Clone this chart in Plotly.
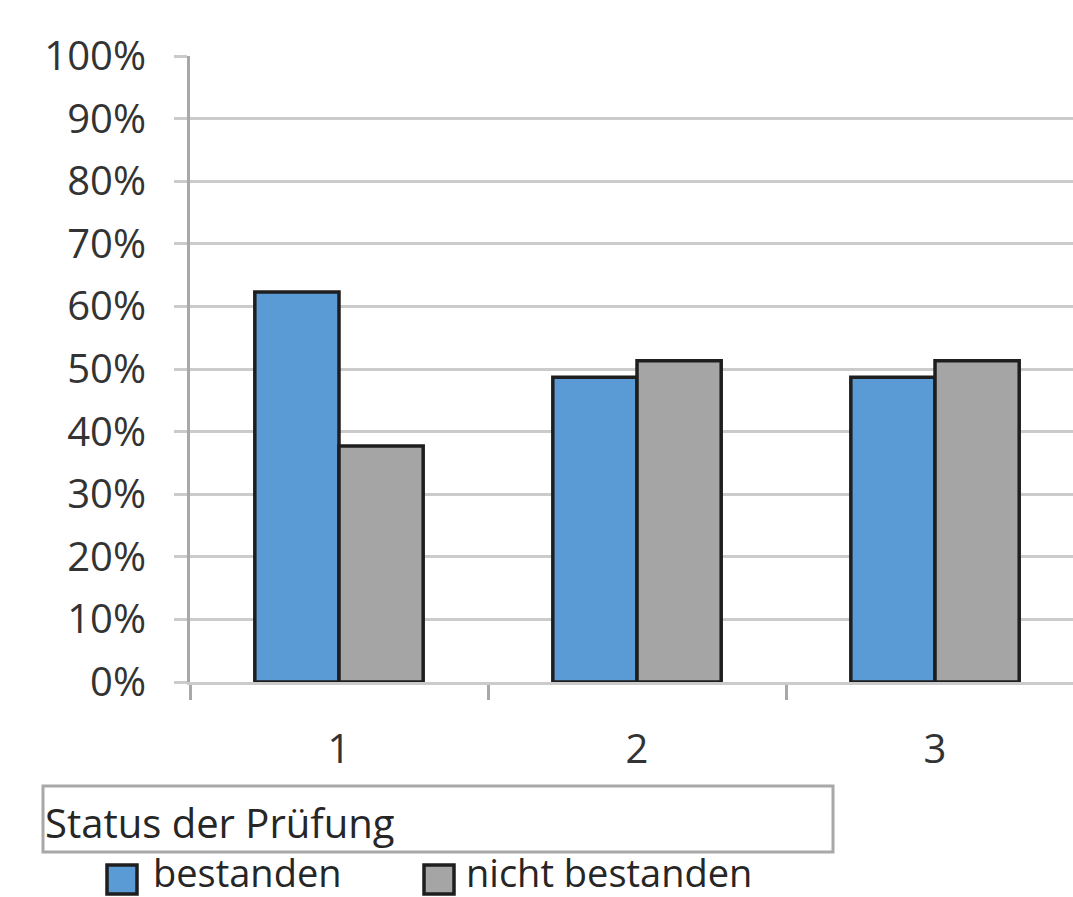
import plotly.graph_objects as go

categories = ["1", "2", "3"]
series_names = ["bestanden", "nicht bestanden"]
bestanden = [0.623, 0.487, 0.487]
nicht_bestanden = [0.377, 0.513, 0.513]
colors = ["#5B9BD5", "#A5A5A5"]
legend_title = "Status der Prüfung"

W, H = 1073, 897
L, R, T, B = 190, 0, 56, 215
PW, PH = W - L - R, H - T - B

def px(x):
    return (x - L) / PW

def py(y):
    return (H - B - y) / PH

FONT = "Open Sans"
fig = go.Figure()
for name, vals, col in zip(series_names, [bestanden, nicht_bestanden], colors):
    fig.add_trace(go.Bar(
        x=categories, y=vals, name=name,
        marker=dict(color=col, line=dict(color="#1e1e1e", width=3.5)),
        showlegend=False,
    ))

fig.update_layout(
    width=W, height=H,
    margin=dict(l=L, r=R, t=T, b=B, pad=0),
    paper_bgcolor="white", plot_bgcolor="white",
    barmode="group", bargap=0.435, bargroupgap=0,
    font=dict(family=FONT, size=40, color="#333333"),
)
fig.update_yaxes(
    range=[0, 1], dtick=0.1, tickformat=".0%",
    showgrid=True, gridcolor="#cbcbcb", gridwidth=3,
    showline=True, linecolor="#a8a8a8", linewidth=3,
    ticks="outside", ticklen=13, tickcolor="#cbcbcb", tickwidth=3,
    ticklabelstandoff=20, zeroline=False,
    tickfont=dict(family=FONT, size=40, color="#333333"),
)
fig.update_xaxes(
    type="category", range=[-0.5, 2.463],
    showline=True, linecolor="#cbcbcb", linewidth=3,
    ticks="outside", tickson="boundaries", ticklen=15, tickcolor="#a8a8a8", tickwidth=3,
    ticklabelstandoff=30, showgrid=False,
    tickfont=dict(family=FONT, size=40, color="#333333"),
)

# legend box with title
fig.add_shape(type="rect", xref="paper", yref="paper",
              x0=px(43), x1=px(833), y0=py(852), y1=py(786),
              line=dict(color="#a8a8a8", width=3), fillcolor="white")
fig.add_annotation(xref="paper", yref="paper", x=px(43), y=py(822),
                   xanchor="left", yanchor="middle", showarrow=False,
                   text=legend_title, font=dict(family=FONT, size=40, color="#262626"))

# legend entries
legend_items = [(series_names[0], colors[0], 107, 151), (series_names[1], colors[1], 424, 464)]
for name, col, sx, tx in legend_items:
    fig.add_shape(type="rect", xref="paper", yref="paper",
                  x0=px(sx), x1=px(sx + 30), y0=py(894), y1=py(865),
                  line=dict(color="#1e1e1e", width=3.5), fillcolor=col)
    fig.add_annotation(xref="paper", yref="paper", x=px(tx), y=py(872),
                       xanchor="left", yanchor="middle", showarrow=False,
                       text=name, font=dict(family=FONT, size=38, color="#262626"))

fig.write_html("out.html", config={"displayModeBar": False},
               post_script="document.body.style.margin='0';document.body.style.overflow='hidden';")
